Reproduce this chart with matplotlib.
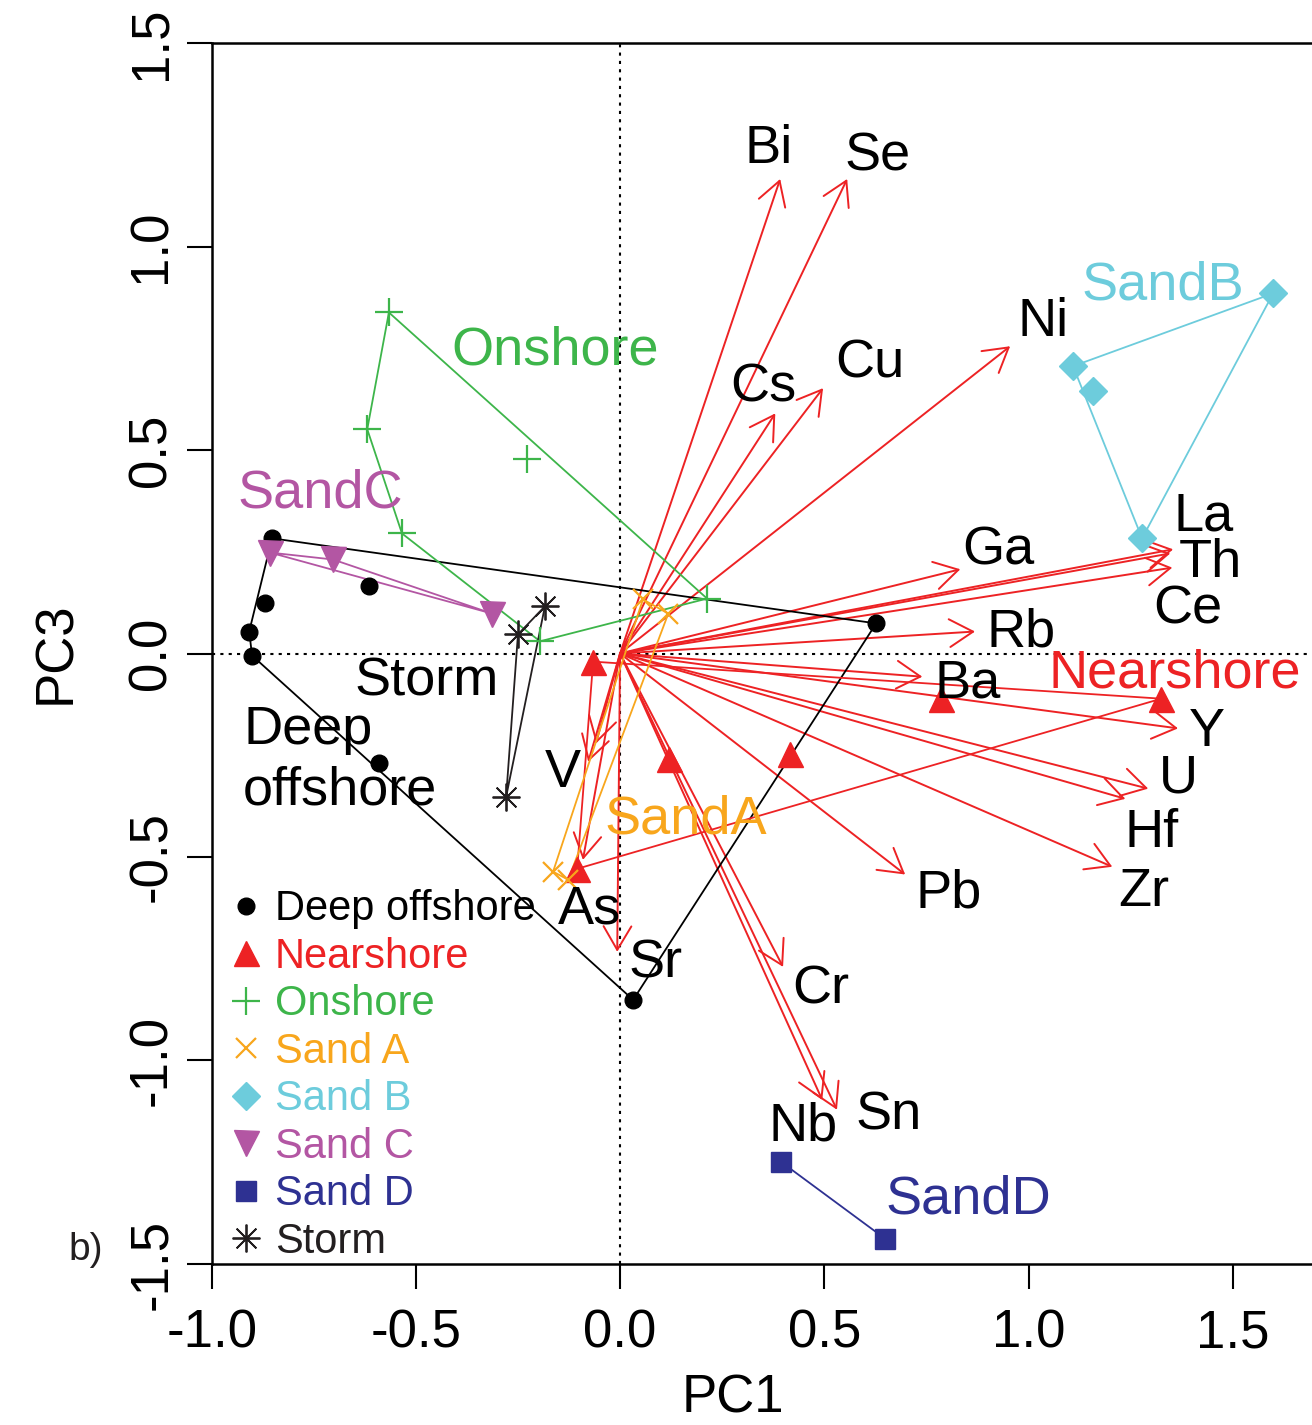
import matplotlib

matplotlib.use("Agg")

from matplotlib import pyplot as plt
from matplotlib.lines import Line2D

plt.rcParams["font.family"] = ["Liberation Sans", "DejaVu Sans"]
plt.rcParams["axes.unicode_minus"] = False

RED = "#ED2224"
GREEN = "#3DB54A"
ORANGE = "#F8A61C"
CYAN = "#6DCCDC"
PURPLE = "#B356A3"
NAVY = "#2E3192"

# sample scores per group (PC1, PC3)
deep_pc1 = [-0.852, -0.869, -0.908, -0.901, -0.615, -0.590, 0.032, 0.627]
deep_pc3 = [0.283, 0.125, 0.054, -0.005, 0.165, -0.268, -0.851, 0.074]

near_pc1 = [-0.066, 0.120, 0.416, 0.786, 1.325, -0.105]
near_pc3 = [-0.020, -0.258, -0.248, -0.111, -0.111, -0.529]

on_pc1 = [-0.566, -0.619, -0.534, -0.228, -0.196, 0.213]
on_pc3 = [0.838, 0.551, 0.295, 0.479, 0.030, 0.135]

sanda_pc1 = [0.056, 0.118, -0.164, -0.127]
sanda_pc3 = [0.133, 0.098, -0.536, -0.556]

sandb_pc1 = [1.109, 1.158, 1.599, 1.278]
sandb_pc3 = [0.706, 0.644, 0.885, 0.283]

sandc_pc1 = [-0.857, -0.703, -0.313]
sandc_pc3 = [0.248, 0.231, 0.098]

sandd_pc1 = [0.394, 0.649]
sandd_pc3 = [-1.249, -1.438]

storm_pc1 = [-0.184, -0.250, -0.279]
storm_pc3 = [0.116, 0.047, -0.352]

# element loadings
elements = ["Bi", "Se", "Cs", "Cu", "Ni", "Ga", "La", "Th", "Ce", "Rb", "Ba",
            "Y", "U", "Hf", "Zr", "Pb", "Cr", "Sn", "Nb", "Sr", "As", "V", ""]
load_pc1 = [0.392, 0.556, 0.380, 0.497, 0.955, 0.833, 1.354, 1.347, 1.352, 0.869, 0.740,
            1.366, 1.293, 1.237, 1.205, 0.698, 0.399, 0.531, 0.495, -0.007, -0.091, -0.078, -0.059]
load_pc3 = [1.166, 1.166, 0.590, 0.652, 0.755, 0.207, 0.256, 0.246, 0.211, 0.054, -0.057,
            -0.184, -0.332, -0.357, -0.524, -0.543, -0.770, -1.121, -1.097, -0.733, -0.507, -0.266, -0.221]

# label offsets from arrow tips (pixels)
label_dx = [-12, 30, -12, 47, 33, 38, 30, 40, 16, 46, 45, 29, 30, 26, 32, 43, 38, 52, -19, 38, 7, -25, 0]
label_dy = [33, 25, 29, 28, 27, 22, 36, -7, -39, 2, -4, -1, 13, -31, -22, -16, -20, -3, -24, -9, -47, -8, 0]

groups = [
    ("Deep offshore", deep_pc1, deep_pc3, "black", "o", 12, 1.0),
    ("Nearshore", near_pc1, near_pc3, RED, "^", 18, 1.0),
    ("Onshore", on_pc1, on_pc3, GREEN, "+", 20, 1.6),
    ("Sand A", sanda_pc1, sanda_pc3, ORANGE, "x", 15, 1.6),
    ("Sand B", sandb_pc1, sandb_pc3, CYAN, "D", 14, 1.0),
    ("Sand C", sandc_pc1, sandc_pc3, PURPLE, "v", 18, 1.0),
    ("Sand D", sandd_pc1, sandd_pc3, NAVY, "s", 14, 1.0),
    ("Storm", storm_pc1, storm_pc3, "#231F20", (8, 2, 0), 20, 1.3),
]

# group names written in the plot: text, x, y, colour, alignment
group_text = [
    ("Onshore", -0.159, 0.744, GREEN, "center"),
    ("SandC", -0.735, 0.392, PURPLE, "center"),
    ("Storm", -0.473, -0.070, "black", "center"),
    ("Deep\noffshore", -0.923, -0.262, "black", "left"),
    ("SandA", 0.162, -0.407, ORANGE, "center"),
    ("SandB", 1.330, 0.904, CYAN, "center"),
    ("Nearshore", 1.359, -0.050, RED, "center"),
    ("SandD", 0.852, -1.341, NAVY, "center"),
]


def convex_hull(xs, ys):
    pts = sorted(set(zip(xs, ys)))
    if len(pts) < 3:
        return pts

    def cross(o, a, b):
        return (a[0] - o[0]) * (b[1] - o[1]) - (a[1] - o[1]) * (b[0] - o[0])

    lower, upper = [], []
    for p in pts:
        while len(lower) >= 2 and cross(lower[-2], lower[-1], p) <= 0:
            lower.pop()
        lower.append(p)
    for p in reversed(pts):
        while len(upper) >= 2 and cross(upper[-2], upper[-1], p) <= 0:
            upper.pop()
        upper.append(p)
    hull = lower[:-1] + upper[:-1]
    return hull + [hull[0]]


fig = plt.figure(figsize=(13.12, 14.25), dpi=100)
ax = fig.add_axes([0.1613, 0.113, 0.8387, 0.8568])
ax.set_xlim(-1.0, 1.694)
ax.set_ylim(-1.5, 1.5)

ax.axhline(0, color="black", lw=1.5, ls=(0, (1.5, 2.5)), zorder=1)
ax.axvline(0, color="black", lw=1.5, ls=(0, (1.5, 2.5)), zorder=1)

for name, x, y, dx, dy in zip(elements, load_pc1, load_pc3, label_dx, label_dy):
    ax.annotate("", xy=(x, y), xytext=(0, 0),
                arrowprops=dict(arrowstyle="->,head_length=0.85,head_width=0.5",
                                color=RED, lw=1.4, shrinkA=0, shrinkB=0,
                                mutation_scale=20), zorder=2)
    if name:
        ax.annotate(name, xy=(x, y), xytext=(dx, dy - 3), textcoords="offset pixels",
                    ha="center", va="center", fontsize=39, zorder=5)

handles = []
for name, xs, ys, color, marker, size, mew in groups:
    hull = convex_hull(xs, ys)
    ax.plot([p[0] for p in hull], [p[1] for p in hull], color=color, lw=1.3, zorder=3)
    ax.plot(xs, ys, ls="none", marker=marker, color=color, markersize=size,
            markeredgewidth=mew, zorder=4)
    handles.append(Line2D([], [], ls="none", marker=marker, color=color,
                          markersize=size, markeredgewidth=mew, label=name))

for text, x, y, color, ha in group_text:
    ax.text(x, y, text, color=color, fontsize=39, ha=ha, va="center",
            multialignment="left", linespacing=1.25, zorder=5)

ax.legend(handles=handles, loc="upper left", bbox_to_anchor=(0.012, 0.307),
          frameon=False, fontsize=30, handlelength=1.0, handletextpad=0.2,
          labelspacing=0.18, borderpad=0, borderaxespad=0,
          labelcolor=[g[3] for g in groups])

ax.set_xticks([-1.0, -0.5, 0.0, 0.5, 1.0, 1.5])
ax.set_yticks([-1.5, -1.0, -0.5, 0.0, 0.5, 1.0, 1.5])
ax.set_xticklabels([f"{t:.1f}" for t in ax.get_xticks()])
ax.set_yticklabels([f"{t:.1f}" for t in ax.get_yticks()])
ax.tick_params(direction="out", length=18, width=1.5, labelsize=38)
ax.tick_params(axis="x", pad=14)
ax.tick_params(axis="y", pad=7, labelrotation=90)
for lab in ax.get_yticklabels():
    lab.set_va("center")

ax.spines["right"].set_visible(False)
for side in ["left", "top", "bottom"]:
    ax.spines[side].set_linewidth(1.8)

ax.set_xlabel("PC1", fontsize=38)
ax.set_ylabel("PC3", fontsize=38)
ax.xaxis.set_label_coords(0.474, -0.090)
ax.yaxis.set_label_coords(-0.119, 0.501)

fig.text(0.065, 0.1228, "b)", fontsize=28, color="#231F20", ha="center", va="center")

fig.savefig("out.png", dpi=100)
